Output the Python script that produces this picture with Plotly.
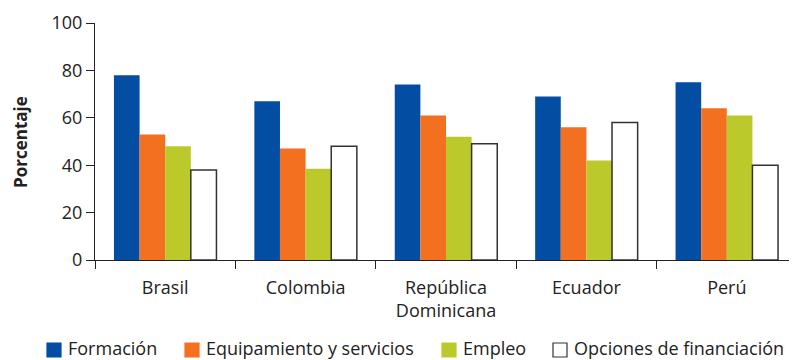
import plotly.graph_objects as go

categories = ["Brasil", "Colombia", "República<br>Dominicana", "Ecuador", "Perú"]
series_names = ["Formación", "Equipamiento y servicios", "Empleo", "Opciones de financiación"]
formacion = [78, 67, 74, 69, 75]
equipamiento = [53, 47, 61, 56, 64]
empleo = [48, 38.5, 52, 42, 61]
financiacion = [38, 48, 49, 58, 40]
y_ticks = [0, 20, 40, 60, 80, 100]

values = [formacion, equipamiento, empleo, financiacion]
fills = ["#034EA2", "#F37021", "#BBC92A", "#FFFFFF"]
lines = ["#034EA2", "#F37021", "#BBC92A", "#333333"]
lwidth = [0, 0, 0, 1.5]

OFF = 8  # page body margin
W, H = 797 - OFF, 360 - OFF
ML, MR, MT, MB = 95 - OFF, 0, 23 - OFF, 360 - 260
PW, PH = W - ML - MR, H - MT - MB

def px_x(x):  # page pixel -> paper
    return (x - OFF - ML) / PW

def px_y(y):
    return (H - MB - (y - OFF)) / PH

fig = go.Figure()
for name, vals, fc, lc, lw in zip(series_names, values, fills, lines, lwidth):
    fig.add_trace(go.Bar(x=categories, y=vals, name=name,
                         marker=dict(color=fc, line=dict(color=lc, width=lw))))

font_family = "Open Sans, sans-serif"
txt = "#222222"

# manual legend (matches reference spacing)
legend_sq_x = [47, 185, 442, 553]
for name, fc, lc, sx in zip(series_names, fills, lines, legend_sq_x):
    fig.add_shape(type="rect", xref="paper", yref="paper",
                  x0=px_x(sx), x1=px_x(sx + 14), y0=px_y(357), y1=px_y(343),
                  fillcolor=fc, line=dict(color=lc if fc == "#FFFFFF" else fc, width=1.2))
    fig.add_annotation(text=name, xref="paper", yref="paper", x=px_x(sx + 19), y=px_y(348),
                       xanchor="left", yanchor="middle", showarrow=False,
                       font=dict(size=18, color=txt, family=font_family))

fig.add_annotation(text="<b>Porcentaje</b>", xref="paper", yref="paper",
                   x=px_x(20), y=px_y(142), xanchor="center", yanchor="middle",
                   textangle=-90, showarrow=False,
                   font=dict(size=17, color=txt, family=font_family))

fig.update_layout(
    width=W, height=H,
    margin=dict(l=ML, r=MR, t=MT, b=MB),
    paper_bgcolor="white", plot_bgcolor="white",
    barmode="group", bargap=0.27, bargroupgap=0,
    font=dict(family=font_family, size=18, color=txt),
    showlegend=False,
    xaxis=dict(showline=True, linecolor=txt, linewidth=1.2, automargin=False,
               ticks="outside", tickson="boundaries", ticklen=8, tickcolor=txt,
               showgrid=False, tickfont=dict(size=18), ticklabelstandoff=11,
               fixedrange=True),
    yaxis=dict(range=[0, 100], tickvals=y_ticks, showline=True, linecolor=txt,
               linewidth=1.2, ticks="outside", ticklen=8, tickcolor=txt, automargin=False,
               showgrid=False, zeroline=False, tickfont=dict(size=18), fixedrange=True),
)
fig.write_html("out.html")
